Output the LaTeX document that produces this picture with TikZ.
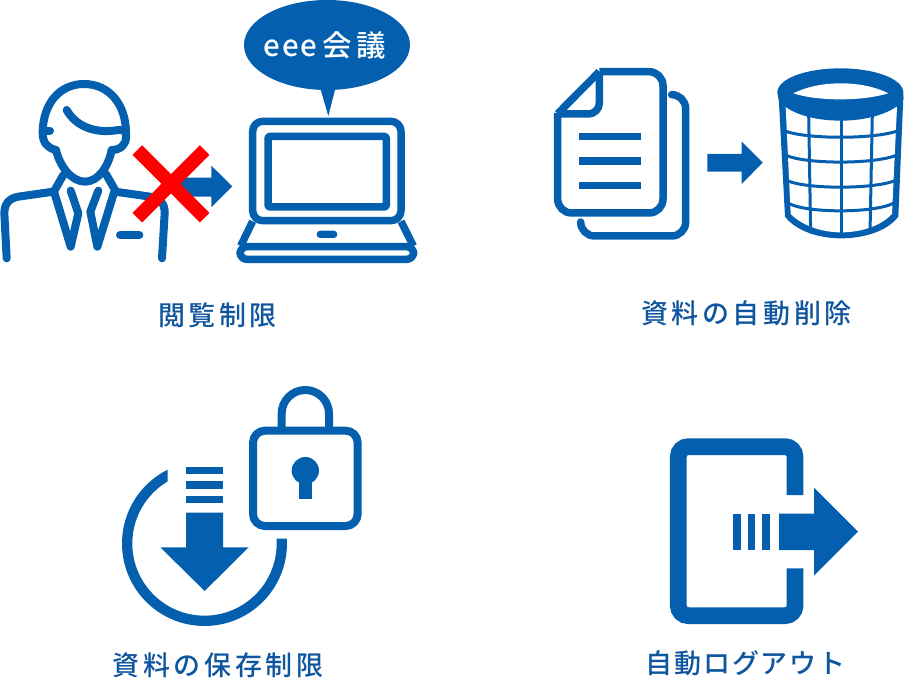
\documentclass[tikz,border=0pt]{standalone}
\usepackage{fontspec}
\newfontfamily\cjk{Noto Sans CJK JP Medium}[LetterSpace=13.5]
\newfontfamily\cjkb{Noto Sans CJK JP Medium}
\definecolor{iconblue}{HTML}{0460AE}
\definecolor{textblue}{HTML}{0F569F}
\tikzset{
  zoomed/.style={x=0.33333pt,y=-0.33333pt},
  icon/.style={draw=iconblue,line width=7.5pt,line cap=round,line join=round},
  person/.style={icon,line width=8pt},
  plain/.style={fill=iconblue,draw=none},
  caption/.style={text=textblue,inner sep=0pt,font=\cjk\fontsize{27}{30}\selectfont},
}
\begin{document}
\begin{tikzpicture}[x=1pt,y=-1pt]
\useasboundingbox (0,0) rectangle (904,679);
\fill[white] (0,0) rectangle (904,679);
% ---- top left: person, arrow, cross, laptop
\begin{scope}[zoomed]
  % person
  \draw[person] (128,400) .. controls (128,310) and (180,252) .. (252,252)
     .. controls (325,252) and (378,310) .. (378,400) -- (378,412)
     .. controls (378,435) and (360,450) .. (335,450)
     .. controls (325,500) and (295,545) .. (255,545)
     .. controls (215,545) and (180,500) .. (168,450)
     .. controls (145,445) and (128,430) .. (128,400) -- cycle;
  \draw[person] (128,392) -- (150,392);
  \draw[person] (200,330) .. controls (225,375) and (280,403) .. (355,390) -- (378,392);
  \draw[person] (190,525) -- (163,572);
  \draw[person] (318,522) -- (345,570);
  \draw[person] (163,578) -- (212,740) -- (235,640) -- (212,572);
  \draw[person] (342,578) -- (292,740) -- (271,635) -- (295,572);
  \draw[person] (160,575) -- (55,590) .. controls (28,595) and (13,610) .. (13,640) -- (20,775);
  \draw[person] (345,575) -- (450,590) .. controls (480,595) and (495,610) .. (494,640) -- (486,775);
  \draw[person] (360,705) -- (418,705);
  % arrow behind the cross
  \fill[plain] (540,533) -- (634,533) -- (634,497) -- (697,559) -- (634,622) -- (634,590) -- (540,590) -- cycle;
  % cross
  \draw[red,line width=13.6pt] (412,450) -- (614,653);
  \draw[red,line width=13.6pt] (614,450) -- (412,653);
  % laptop
  \draw[icon,line cap=butt,rounded corners=10pt] (758,662) -- (758,364) -- (1203,364) -- (1203,662) -- cycle;
  \draw[icon,line cap=butt,rounded corners=1.5pt] (804,409) rectangle (1159,621);
  \draw[icon,line cap=butt] (758,664) -- (722,738);
  \draw[icon,line cap=butt] (1203,664) -- (1240,738);
  \draw[icon,line cap=butt,rounded corners=7pt] (720,740) -- (720,778) -- (1241,778) -- (1241,740) -- cycle;
  \fill[plain,rounded corners=3.5pt] (950,692) rectangle (1012,714);
  % bubble
  \fill[plain] (981,135) ellipse [x radius=249,y radius=135];
  \fill[plain] (960,262) -- (985,348) -- (1007,262) -- cycle;
\end{scope}
\node[text=white,inner sep=0pt,font=\cjkb\fontsize{29.5}{30}\selectfont] (bubbletext) at (325,45) {\addfontfeature{LetterSpace=6}eee\hspace{5pt}会\hspace{5pt}議};
\node[caption] (capA) at (217.5,315.5) {閲覧制限};
% ---- top right: documents, arrow, bin
\begin{scope}[shift={(540,50)},zoomed]
  \draw[icon,line cap=butt,miter limit=10,rounded corners=14pt] (178,65) -- (369,65) -- (369,489) -- (53,489) -- (53,189);
  \draw[icon,line cap=butt] (53,191) -- (178,65);
  \draw[icon,line cap=butt,rounded corners=11pt] (178,70) -- (178,192) -- (55,192);
  \draw[icon,line cap=butt,rounded corners=14pt] (398,134) -- (437,134) -- (437,558) -- (122,558) -- (122,518);
  \fill[plain] (118,248) rectangle (304,270);
  \fill[plain] (118,322) rectangle (304,344);
  \fill[plain] (118,396) rectangle (304,418);
  \fill[plain] (502,312) -- (605,312) -- (605,275) -- (668,338) -- (605,402) -- (605,365) -- (502,365) -- cycle;
  % bin body
  \fill[plain] (716,140) -- (735,500) .. controls (770,545) and (840,565) .. (903,565)
     .. controls (970,565) and (1040,545) .. (1075,500) -- (1090,140) -- cycle;
  \fill[white] (737,170) -- (752,492) .. controls (790,530) and (850,547) .. (903,547)
     .. controls (960,547) and (1020,530) .. (1056,492) -- (1071,170) -- cycle;
  \begin{scope}[line width=3pt,draw=iconblue]
    \draw (806,190) -- (812,550);
    \draw (903,190) -- (903,552);
    \draw (997,190) -- (990,550);
    \draw (735,243) .. controls (800,268) and (1000,268) .. (1072,243);
    \draw (738,316) .. controls (800,343) and (1000,343) .. (1069,316);
    \draw (742,392) .. controls (800,418) and (1000,418) .. (1065,392);
    \draw (746,460) .. controls (800,490) and (1000,490) .. (1060,460);
  \end{scope}
  % bin rim
  \fill[plain] (712,128) .. controls (712,85) and (800,55) .. (902,55)
     .. controls (1000,55) and (1090,85) .. (1090,128) -- (1090,150)
     .. controls (1060,190) and (980,212) .. (903,212)
     .. controls (820,212) and (745,190) .. (716,150) -- cycle;
  \fill[white] (760,130) .. controls (800,110) and (850,100) .. (902,100)
     .. controls (955,100) and (1005,110) .. (1045,130)
     .. controls (1000,143) and (950,148) .. (902,148)
     .. controls (850,148) and (800,143) .. (760,130) -- cycle;
\end{scope}
\node[caption] (capB) at (746.5,313.5) {資料の自動削除};
% ---- bottom left: download and lock
\begin{scope}[shift={(100,370)},zoomed]
  \begin{scope}
    \clip (0,0) -- (203,0) -- (203,506) -- (700,506) -- (700,800) -- (0,800) -- cycle;
    \draw[iconblue,line width=10.3pt] (313.5,520.5) circle [radius=232];
  \end{scope}
  \fill[plain] (258,290) rectangle (369,312);
  \fill[plain] (258,334) rectangle (369,356);
  \fill[plain] (258,378) rectangle (369,400);
  \fill[plain] (258,428) -- (369,428) -- (369,532) -- (446,532) -- (314,663) -- (181,532) -- (258,532) -- cycle;
  \draw[icon,line width=8pt,line cap=butt] (545,182) -- (545,131) arc [start angle=180,end angle=360,radius=71] -- (687,182);
  \draw[icon,line width=8pt,rounded corners=12pt] (459,182) rectangle (773,468);
  \fill[plain] (616,302) circle [radius=41];
  \fill[plain] (596,315) rectangle (637,387);
\end{scope}
\node[caption] (capC) at (218,665.5) {資料の保存制限};
% ---- bottom right: logout
\begin{scope}[shift={(630,420)},zoomed]
  \draw[iconblue,line width=16.7pt,rounded corners=10pt] (495,225) -- (495,80) -- (145,80) -- (145,587) -- (495,587) -- (495,445);
  \fill[plain] (310,281) rectangle (332,390);
  \fill[plain] (353,281) rectangle (376,390);
  \fill[plain] (397,281) rectangle (420,390);
  \fill[plain] (447,281) -- (552,281) -- (552,203) -- (684,335) -- (552,467) -- (552,390) -- (447,390) -- cycle;
\end{scope}
\node[caption] (capD) at (745.5,663.7) {\addfontfeature{LetterSpace=7}自動ログアウト};
\end{tikzpicture}
\end{document}
